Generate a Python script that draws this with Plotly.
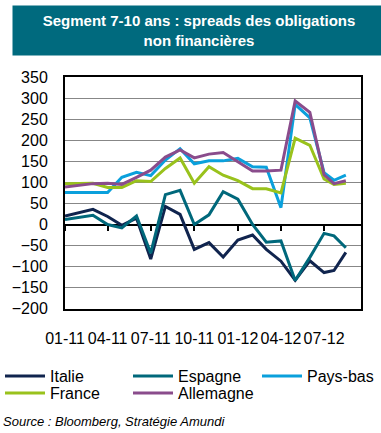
import plotly.graph_objects as go

# ---- data ----
dates = ["2011-01-01", "2011-02-01", "2011-03-01", "2011-04-01", "2011-05-01",
         "2011-06-01", "2011-07-01", "2011-08-01", "2011-09-01", "2011-10-01",
         "2011-11-01", "2011-12-01", "2012-01-01", "2012-02-01", "2012-03-01",
         "2012-04-01", "2012-05-01", "2012-06-01", "2012-07-01", "2012-07-22",
         "2012-08-16"]

italie = [20, 28, 36, 19, -2, 15, -82, 43, 24, -59, -43, -77, -37, -25, -59,
          -87, -132, -86, -114, -109, -66]
espagne = [12, 17, 22, 0, -8, 20, -68, 71, 81, 0, 23, 78, 60, 0, -42, -39,
           -133, -78, -21, -27, -55]
pays_bas = [76, 76, 76, 76, 112, 124, 116, 153, 180, 144, 151, 151, 157, 137,
            136, 40, 285, 253, 123, 105, 117]
france = [97, 98, 98, 88, 88, 104, 102, 133, 158, 98, 137, 117, 104, 85, 85,
          75, 205, 188, 108, 95, 98]
allemagne = [89, 93, 97, 98, 95, 112, 129, 160, 177, 158, 167, 171, 150, 127,
             127, 129, 293, 266, 118, 97, 104]

tick_dates = ["2011-01-01", "2011-04-01", "2011-07-01", "2011-10-01",
              "2012-01-01", "2012-04-01", "2012-07-01"]
tick_labels = ["01-11", "04-11", "07-11", "10-11", "01-12", "04-12", "07-12"]

series_names = ["Italie", "Espagne", "Pays-bas", "France", "Allemagne"]
series_values = [italie, espagne, pays_bas, france, allemagne]

# ---- style ----
FONT = "Liberation Sans, Arial, sans-serif"
colors = ["#10244E", "#00687B", "#0AA0DC", "#99C21C", "#8A4C8C"]
# legend grid placement (px from left / top of the page)
legend_cols = [0, 128, 257, 0, 128]
legend_tops = [359, 359, 359, 376, 376]
Y_MIN, Y_MAX = -200, 350
X_RANGE = ["2011-01-01", "2012-09-17"]

W, H = 381, 433
ML, MR, MT, MB = 48, 20, 77, 115
PW, PH = W - ML - MR, H - MT - MB


def px_x(x):
    return (x - ML) / PW


def px_y(y):
    return (H - MB - y) / PH


fig = go.Figure()
legend_layouts = {}
for i, (name, vals, col) in enumerate(zip(series_names, series_values, colors)):
    key = "legend" if i == 0 else f"legend{i + 1}"
    fig.add_trace(go.Scatter(
        x=dates, y=vals, name=name, mode="lines",
        line=dict(color=col, width=3), legend=key,
    ))
    legend_layouts[key] = dict(
        orientation="h", xref="container", yref="container",
        xanchor="left", yanchor="top",
        x=legend_cols[i] / W, y=1 - legend_tops[i] / H,
        itemwidth=40,
        font=dict(family=FONT, size=16, color="#000000"),
        bgcolor="rgba(0,0,0,0)", borderwidth=0,
    )

# empty trace to carry the tick marks on the zero line
fig.add_trace(go.Scatter(x=[], y=[], xaxis="x2", showlegend=False,
                         hoverinfo="skip"))

zero_pos = (0 - Y_MIN) / (Y_MAX - Y_MIN)

fig.update_layout(
    width=W, height=H,
    margin=dict(l=ML, r=MR, t=MT, b=MB, pad=0),
    paper_bgcolor="white", plot_bgcolor="white",
    font=dict(family=FONT, size=16, color="#000000"),
    showlegend=True,
    **legend_layouts,
    title=dict(
        text="<i>Source : Bloomberg, Stratégie Amundi</i>",
        xref="container", yref="container", x=3 / W, y=1 - 421 / H,
        xanchor="left", yanchor="middle",
        font=dict(family=FONT, size=13, color="#000000"),
    ),
    xaxis=dict(
        type="date", range=X_RANGE,
        tickvals=tick_dates, ticktext=tick_labels,
        ticks="", showgrid=False,
        showline=True, linecolor="black", linewidth=2, mirror=True,
        tickfont=dict(family=FONT, size=16, color="#000000"),
        ticklabelstandoff=14,
        zeroline=False,
    ),
    xaxis2=dict(
        type="date", range=X_RANGE, overlaying="x", anchor="free",
        position=zero_pos, matches="x",
        tickvals=tick_dates, showticklabels=False,
        ticks="outside", ticklen=5, tickwidth=2, tickcolor="black",
        showgrid=False, showline=False, zeroline=False,
    ),
    yaxis=dict(
        range=[Y_MIN, Y_MAX], dtick=50, tick0=0,
        showgrid=True, gridcolor="#878787", gridwidth=1,
        zeroline=True, zerolinecolor="black", zerolinewidth=2,
        showline=True, linecolor="black", linewidth=2, mirror=True,
        ticks="", ticklabelstandoff=12,
        tickfont=dict(family=FONT, size=16, color="#000000"),
    ),
    annotations=[
        dict(
            text="<b>Segment 7-10 ans : spreads des obligations<br>non financières</b>",
            xref="paper", yref="paper", x=px_x(190), y=px_y(28.5),
            xanchor="center", yanchor="middle", showarrow=False,
            width=372, height=49, bgcolor="#006A7E", borderpad=0,
            font=dict(family=FONT, size=15, color="white"), align="center",
        ),
    ],
)

fig.write_html("out.html",
               config={"displayModeBar": False},
               post_script="document.body.style.margin='0';")
